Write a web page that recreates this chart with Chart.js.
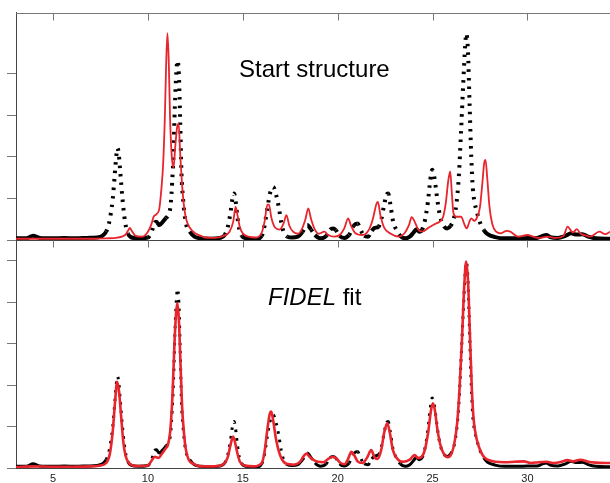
<!DOCTYPE html>
<html>
<head>
<meta charset="utf-8">
<script src="https://cdn.jsdelivr.net/npm/chart.js@4/dist/chart.umd.min.js"></script>
<style>
  body { margin: 0; background: #fff; }
  #wrap { position: relative; width: 610px; height: 483px; overflow: hidden; }
  .panel { position: absolute; left: 0; width: 610px; }
  .label { position: absolute; font-family: "Liberation Sans", Arial, sans-serif; font-size: 24px; line-height: 24px; color: #000; white-space: nowrap; }
</style>
</head>
<body>
<div id="wrap">
  <div class="panel" style="top:0;height:250px"><canvas id="topChart" width="610" height="250"></canvas></div>
  <div class="panel" style="top:240px;height:243px"><canvas id="bottomChart" width="610" height="243"></canvas></div>
  <div class="label" style="left:239px;top:57px">Start structure</div>
  <div class="label" style="left:268px;top:285px"><i>FIDEL</i> fit</div>
</div>
<script>
// observed pattern (black dots), same in both panels
const obsX = [3.05, 3.6, 3.95, 4.3, 5.0, 5.6, 6.2, 6.8, 7.3, 7.6, 7.8, 7.95, 8.05, 8.15, 8.25, 8.33, 8.4, 8.47, 8.55, 8.65, 8.75, 8.85, 8.95, 9.1, 9.5,
  10.0, 10.2, 10.35, 10.45, 10.6, 10.75, 10.95, 11.1, 11.2, 11.28, 11.35, 11.42, 11.5, 11.56, 11.63, 11.7, 11.77, 11.85, 11.95, 12.05, 12.2, 12.45, 12.8,
  13.3, 13.8, 14.05, 14.2, 14.35, 14.45, 14.54, 14.62, 14.72, 14.82, 14.95, 15.2, 15.7, 16.0, 16.15, 16.3, 16.45, 16.6, 16.75, 16.9, 17.03, 17.15, 17.35,
  17.6, 17.9, 18.15, 18.4, 18.6, 18.8, 19.1, 19.4, 19.6, 19.75, 19.9, 20.1, 20.35, 20.6, 20.85, 21.05, 21.2, 21.4, 21.6, 21.8, 21.95, 22.15, 22.3, 22.45,
  22.58, 22.66, 22.78, 22.92, 23.1, 23.3, 23.55, 23.8, 24.0, 24.15, 24.3, 24.45, 24.6, 24.75, 24.88, 24.98, 25.08, 25.2, 25.32, 25.45, 25.6, 25.78, 25.95,
  26.1, 26.25, 26.38, 26.5, 26.62, 26.72, 26.78, 26.86, 26.95, 27.04, 27.12, 27.22, 27.35, 27.5, 27.7, 27.9, 28.3, 28.8, 29.5, 30.0, 30.5, 30.8, 31.0,
  31.2, 31.6, 32.0, 32.3, 32.6, 32.9, 33.2, 33.6, 34.35];
const obsY = [0.04, 0.04, 0.1, 0.05, 0.04, 0.05, 0.04, 0.05, 0.06, 0.1, 0.2, 0.4, 0.65, 1.0, 1.55, 2.0, 2.21, 2.05, 1.6, 1.05, 0.6, 0.3, 0.15, 0.07, 0.04,
  0.06, 0.2, 0.42, 0.44, 0.36, 0.42, 0.53, 0.62, 0.85, 1.4, 2.1, 3.2, 4.05, 4.32, 4.0, 2.9, 1.6, 1.0, 0.55, 0.32, 0.2, 0.08, 0.04,
  0.03, 0.05, 0.12, 0.3, 0.65, 0.98, 1.12, 0.95, 0.55, 0.25, 0.1, 0.04, 0.02, 0.1, 0.35, 0.78, 1.15, 1.28, 1.1, 0.78, 0.42, 0.2, 0.08,
  0.06, 0.08, 0.2, 0.36, 0.25, 0.12, 0.04, 0.1, 0.25, 0.28, 0.24, 0.1, 0.05, 0.12, 0.35, 0.4, 0.25, 0.1, 0.08, 0.22, 0.29, 0.32, 0.5, 0.85,
  1.1, 1.12, 0.85, 0.45, 0.24, 0.1, 0.04, 0.08, 0.18, 0.26, 0.2, 0.25, 0.48, 0.9, 1.45, 1.69, 1.55, 1.15, 0.75, 0.48, 0.33, 0.28, 0.34,
  0.48, 0.85, 1.5, 2.6, 3.8, 4.7, 4.97, 4.6, 3.3, 2.0, 1.25, 0.9, 0.65, 0.42, 0.24, 0.14, 0.07, 0.04, 0.04, 0.05, 0.05, 0.1, 0.12,
  0.07, 0.05, 0.1, 0.16, 0.13, 0.14, 0.08, 0.04, 0.03];

// calculated pattern of the start structure (red, top)
const startX = [3.05, 4.0, 5.0, 6.0, 7.0, 7.8, 8.4, 8.8, 8.95, 9.05, 9.15, 9.35, 9.7, 10.0, 10.2, 10.3, 10.45, 10.6, 10.72, 10.8, 10.89, 10.96, 11.03,
  11.1, 11.17, 11.26, 11.35, 11.45, 11.55, 11.62, 11.7, 11.81, 11.92, 12.03, 12.2, 12.47, 12.8, 13.0, 13.5, 14.0, 14.3, 14.5, 14.62, 14.72, 14.85,
  15.0, 15.3, 15.7, 16.0, 16.15, 16.3, 16.38, 16.5, 16.7, 16.95, 17.15, 17.3, 17.45, 17.65, 17.9, 18.1, 18.3, 18.45, 18.6, 18.8, 19.0, 19.3, 19.5,
  19.8, 20.1, 20.35, 20.55, 20.7, 20.9, 21.3, 21.65, 21.85, 22.05, 22.12, 22.25, 22.45, 22.8, 23.2, 23.5, 23.75, 23.9, 24.05, 24.25, 24.45, 24.8,
  25.1, 25.37, 25.55, 25.7, 25.82, 25.93, 26.02, 26.1, 26.25, 26.5, 26.7, 26.8, 26.95, 27.04, 27.2, 27.35, 27.5, 27.62, 27.72, 27.79, 27.88, 28.0,
  28.15, 28.35, 28.6, 28.9, 29.1, 29.5, 30.0, 30.3, 30.6, 31.05, 31.5, 31.9, 32.12, 32.3, 32.4, 32.6, 32.8, 33.0, 33.3, 33.79, 34.1, 34.35];
const startY = [0.03, 0.03, 0.03, 0.03, 0.03, 0.04, 0.06, 0.12, 0.22, 0.29, 0.22, 0.1, 0.08, 0.2, 0.4, 0.56, 0.62, 0.75, 1.28, 1.8, 2.9, 4.2, 4.98,
  4.3, 2.9, 2.0, 1.75, 2.3, 2.75, 2.8, 2.1, 1.28, 0.75, 0.48, 0.3, 0.17, 0.1, 0.06, 0.05, 0.1, 0.2, 0.45, 0.8, 0.6, 0.3,
  0.16, 0.08, 0.06, 0.18, 0.45, 0.85, 0.85, 0.55, 0.3, 0.25, 0.4, 0.6, 0.35, 0.2, 0.15, 0.25, 0.5, 0.76, 0.5, 0.25, 0.15, 0.2, 0.12,
  0.08, 0.12, 0.28, 0.52, 0.35, 0.18, 0.12, 0.25, 0.5, 0.88, 0.92, 0.6, 0.3, 0.15, 0.08, 0.15, 0.35, 0.55, 0.45, 0.25, 0.2, 0.3,
  0.38, 0.44, 0.55, 0.9, 1.4, 1.65, 1.1, 0.65, 0.56, 0.56, 0.35, 0.28, 0.45, 0.52, 0.46, 0.55, 0.8, 1.35, 1.85, 1.93, 1.5, 0.8,
  0.38, 0.2, 0.16, 0.22, 0.2, 0.08, 0.12, 0.08, 0.05, 0.08, 0.05, 0.1, 0.32, 0.22, 0.18, 0.26, 0.15, 0.12, 0.08, 0.2, 0.14, 0.2];

// calculated pattern after the FIDEL fit (red, bottom)
const fitX = [3.05, 4.0, 5.0, 6.0, 7.0, 7.5, 7.8, 8.0, 8.15, 8.27, 8.38, 8.48, 8.58, 8.7, 8.82, 9.0, 9.4, 10.0, 10.2, 10.37, 10.55, 10.75, 10.93,
  11.05, 11.18, 11.3, 11.4, 11.48, 11.55, 11.63, 11.72, 11.8, 11.9, 12.0, 12.15, 12.4, 12.8, 13.5, 14.0, 14.2, 14.35, 14.49, 14.6, 14.72, 14.85,
  15.1, 15.6, 16.0, 16.15, 16.3, 16.42, 16.5, 16.6, 16.75, 16.9, 17.05, 17.3, 17.7, 18.0, 18.2, 18.35, 18.5, 18.7, 18.96, 19.25, 19.5, 19.75,
  19.95, 20.15, 20.37, 20.55, 20.72, 20.88, 21.05, 21.3, 21.55, 21.77, 21.95, 22.1, 22.3, 22.45, 22.61, 22.75, 22.9, 23.1, 23.44, 23.8, 24.05,
  24.25, 24.45, 24.6, 24.78, 24.92, 25.02, 25.12, 25.25, 25.4, 25.58, 25.8, 26.0, 26.15, 26.3, 26.42, 26.55, 26.67, 26.77, 26.87, 26.97, 27.07,
  27.17, 27.3, 27.45, 27.65, 27.9, 28.3, 28.8, 29.3, 29.8, 30.2, 30.6, 31.0, 31.4, 31.8, 32.1, 32.4, 32.8, 33.2, 33.6, 34.35];
const fitY = [0.02, 0.04, 0.03, 0.03, 0.04, 0.06, 0.12, 0.35, 0.9, 1.6, 2.08, 1.85, 1.3, 0.65, 0.3, 0.12, 0.05, 0.06, 0.18, 0.27, 0.24, 0.35, 0.47,
  0.55, 0.9, 1.8, 3.0, 3.7, 3.98, 3.6, 2.5, 1.5, 0.85, 0.45, 0.2, 0.1, 0.04, 0.04, 0.1, 0.25, 0.55, 0.76, 0.6, 0.35, 0.15,
  0.06, 0.04, 0.12, 0.4, 0.95, 1.3, 1.36, 1.15, 0.7, 0.4, 0.22, 0.1, 0.08, 0.14, 0.28, 0.35, 0.28, 0.2, 0.15, 0.14, 0.22, 0.27,
  0.22, 0.12, 0.09, 0.22, 0.39, 0.3, 0.16, 0.12, 0.25, 0.43, 0.25, 0.22, 0.45, 0.85, 1.08, 0.85, 0.45, 0.25, 0.15, 0.2, 0.31,
  0.24, 0.28, 0.45, 0.9, 1.4, 1.56, 1.4, 0.95, 0.58, 0.35, 0.26, 0.35, 0.6, 1.1, 1.9, 3.1, 4.4, 4.98, 4.5, 3.2, 1.9,
  1.15, 0.75, 0.5, 0.3, 0.2, 0.15, 0.14, 0.15, 0.16, 0.12, 0.14, 0.15, 0.12, 0.15, 0.19, 0.16, 0.2, 0.15, 0.13, 0.12];

const xTicks = [5, 10, 15, 20, 25, 30];
const topYTicks = [0, 1, 2, 3, 4];
const bottomYTicks = [0, 1, 2, 3, 4, 5];

const red = '#e8242c';
const axisColor = '#444';
const tickColor = '#777';

function pts(xs, ys) {
  return xs.map((x, i) => ({ x: x, y: ys[i] }));
}

// dotted look on the steep flanks, solid where the trace is flat
function dotted(ctx) {
  const dx = Math.abs(ctx.p1.x - ctx.p0.x);
  const dy = Math.abs(ctx.p1.y - ctx.p0.y);
  return dy / Math.max(dx, 0.01) > 1.3 ? [2.5, 6] : [];
}

// top border and panel divider with their tick marks
const framePlugin = {
  id: 'frame',
  afterDraw(chart, args, opts) {
    if (!opts.lines) return;
    const ctx = chart.ctx;
    const a = chart.chartArea;
    const x = chart.scales.x;
    ctx.save();
    ctx.lineWidth = 1;
    opts.lines.forEach(edge => {
      const y = Math.round(edge.side === 'top' ? a.top : a.bottom) + 0.5;
      ctx.strokeStyle = edge.color;
      ctx.beginPath();
      ctx.moveTo(a.left, y);
      ctx.lineTo(a.right, y);
      ctx.stroke();
      ctx.strokeStyle = tickColor;
      xTicks.forEach(v => {
        const px = Math.round(x.getPixelForValue(v)) + 0.5;
        ctx.beginPath();
        ctx.moveTo(px, y);
        ctx.lineTo(px, y + 7);
        ctx.stroke();
      });
    });
    ctx.restore();
  }
};

function makeChart(id, calcX, calcY, yMax, yTicks, redWidth, dotWidth, showX, pad, lines) {
  return new Chart(document.getElementById(id), {
    type: 'line',
    data: {
      datasets: [
        {
          data: pts(calcX, calcY),
          borderColor: red,
          borderWidth: redWidth,
          pointRadius: 0,
          cubicInterpolationMode: 'monotone',
          order: 0
        },
        {
          data: pts(obsX, obsY),
          borderColor: '#000',
          borderWidth: dotWidth,
          pointRadius: 0,
          cubicInterpolationMode: 'monotone',
          segment: { borderDash: dotted },
          order: 1
        }
      ]
    },
    options: {
      responsive: false,
      animation: false,
      events: [],
      layout: { padding: pad },
      plugins: {
        legend: { display: false },
        tooltip: { enabled: false },
        frame: { lines: lines }
      },
      scales: {
        x: {
          type: 'linear',
          min: 3.05,
          max: 34.35,
          display: showX,
          afterBuildTicks: s => { s.ticks = xTicks.map(v => ({ value: v })); },
          afterFit: s => { if (showX) s.height = 15; },
          grid: { display: false, drawTicks: false },
          border: { display: true, color: axisColor, width: 1 },
          ticks: {
            padding: 4,
            color: '#222',
            font: { family: 'Liberation Sans, Arial, sans-serif', size: 11 }
          }
        },
        y: {
          min: 0,
          max: yMax,
          afterBuildTicks: s => { s.ticks = yTicks.map(v => ({ value: v })); },
          afterFit: s => { s.width = 16; },
          grid: { display: true, drawOnChartArea: false, drawTicks: true, tickLength: 9, color: tickColor },
          border: { display: true, color: axisColor, width: 1 },
          ticks: { display: false }
        }
      }
    },
    plugins: [framePlugin]
  });
}

makeChart('topChart', startX, startY, 5.48, topYTicks, 1.8, 4, false,
  { top: 12.5, bottom: 10, left: 0, right: 0 },
  [{ side: 'top', color: '#777' }, { side: 'bottom', color: axisColor }]);

makeChart('bottomChart', fitX, fitY, 5.5, bottomYTicks, 2.6, 3, true,
  { top: 0, bottom: 0, left: 0, right: 0 },
  null);
</script>
</body>
</html>
